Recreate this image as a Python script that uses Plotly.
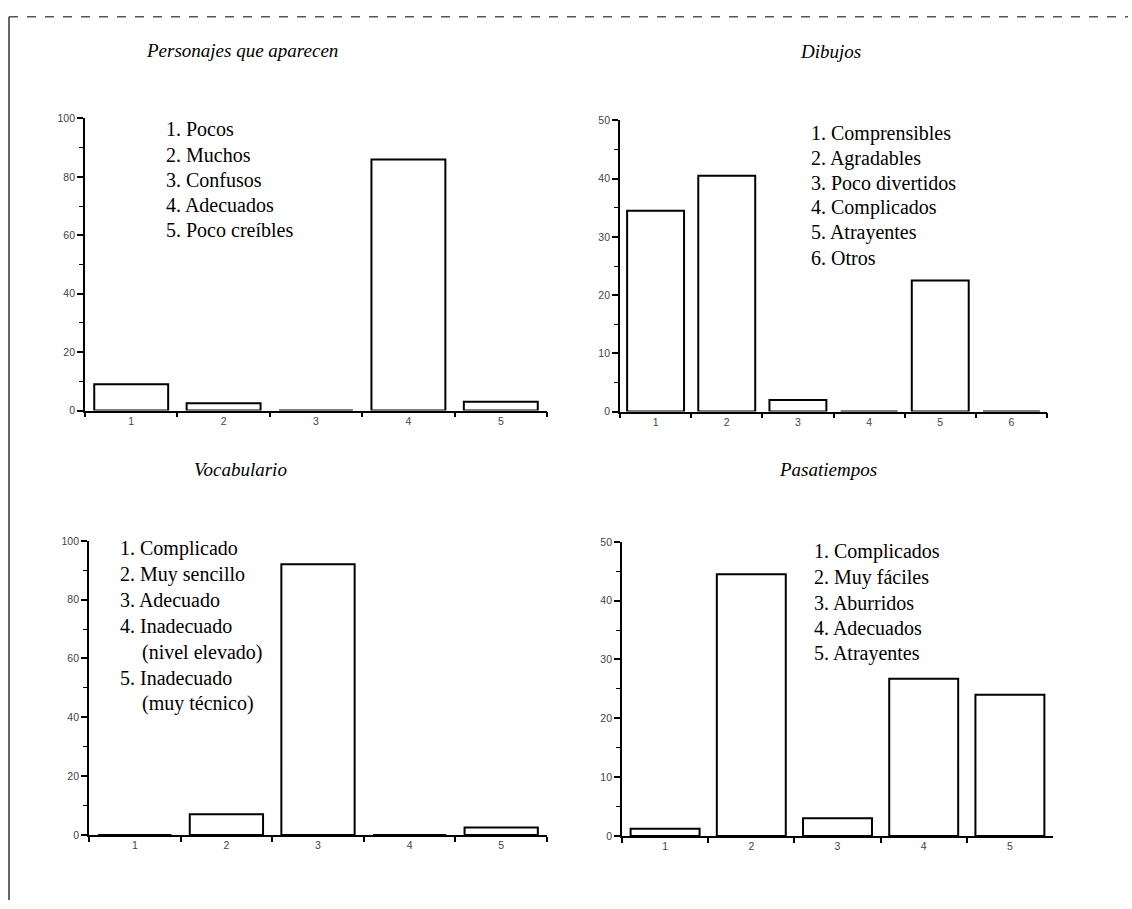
import plotly.graph_objects as go

W, H = 1132, 909

# ---- data ----
titles = ["Personajes que aparecen", "Dibujos", "Vocabulario", "Pasatiempos"]

cats_personajes = ["1", "2", "3", "4", "5"]
vals_personajes = [9, 2.5, 0, 86, 3]
labels_personajes = ["1. Pocos", "2. Muchos", "3. Confusos", "4. Adecuados", "5. Poco creíbles"]

cats_dibujos = ["1", "2", "3", "4", "5", "6"]
vals_dibujos = [34.5, 40.5, 2, 0, 22.5, 0]
labels_dibujos = ["1. Comprensibles", "2. Agradables", "3. Poco divertidos", "4. Complicados",
                  "5. Atrayentes", "6. Otros"]

cats_vocab = ["1", "2", "3", "4", "5"]
vals_vocab = [0, 7, 92, 0, 2.5]
labels_vocab = ["1. Complicado", "2. Muy sencillo", "3. Adecuado", "4. Inadecuado",
                "(nivel elevado)", "5. Inadecuado", "(muy técnico)"]
indent_vocab = [False, False, False, False, True, False, True]

cats_pasa = ["1", "2", "3", "4", "5"]
vals_pasa = [1.2, 44.5, 3, 26.7, 24]
labels_pasa = ["1. Complicados", "2. Muy fáciles", "3. Aburridos", "4. Adecuados", "5. Atrayentes"]

ymax = [100, 50, 100, 50]
ydtick = [20, 10, 20, 10]

# ---- layout helpers (pixel boxes) ----
boxes = [  # x0, x1, ytop, ybottom in pixels
    (85, 547, 114, 410),
    (620, 1047, 116, 411),
    (89, 547, 542, 840),
    (622, 1053, 543, 841),
]
title_pos = [(242, 45), (830, 46), (240, 470), (828, 470)]
label_pos = [(164, 125, 25.5), (809, 129, 25.2), (118, 550, 26.2), (812, 553, 25.8)]

def px(x):
    return x / W

def py(y):
    return 1 - y / H

fig = go.Figure()
data = [(cats_personajes, vals_personajes), (cats_dibujos, vals_dibujos),
        (cats_vocab, vals_vocab), (cats_pasa, vals_pasa)]

serif = "Liberation Serif"
sans = "Liberation Sans"
annotations = []
for i, (cats, vals) in enumerate(data):
    k = "" if i == 0 else str(i + 1)
    fig.add_trace(go.Bar(
        x=cats, y=vals, xaxis="x" + k, yaxis="y" + k,
        marker=dict(color="white", line=dict(color="black", width=2)),
        showlegend=False, hoverinfo="x+y",
    ))
    x0, x1, yt, yb = boxes[i]
    fig.layout["xaxis" + k] = dict(
        domain=[px(x0), px(x1)], anchor="y" + k, type="category",
        tickson="boundaries", ticks="outside", ticklen=5, tickwidth=1.5, tickcolor="black",
        showline=True, linecolor="black", linewidth=1.8, showgrid=False, zeroline=False,
        tickfont=dict(family=sans, size=10.5, color="#444"), fixedrange=True,
    )
    fig.layout["yaxis" + k] = dict(
        domain=[py(yb), py(yt)], anchor="x" + k, range=[0, ymax[i]],
        dtick=ydtick[i], tick0=0, ticks="outside", ticklen=6, tickwidth=1.5, tickcolor="black",
        minor=dict(dtick=ydtick[i] / 2, ticks="outside", ticklen=4, tickcolor="black", tickwidth=1.2),
        showline=True, linecolor="black", linewidth=1.8, showgrid=False, zeroline=False,
        tickfont=dict(family=sans, size=10.5, color="#444"), fixedrange=True,
    )
    tx, ty = title_pos[i]
    annotations.append(dict(
        x=px(tx), y=py(ty), xref="paper", yref="paper", text=titles[i],
        showarrow=False, xanchor="center", yanchor="middle",
        font=dict(family=serif, size=19, color="black", style="italic"),
    ))

label_lists = [labels_personajes, labels_dibujos, labels_vocab, labels_pasa]
indents = [None, None, indent_vocab, None]
for i, labs in enumerate(label_lists):
    lx, ly, sp = label_pos[i]
    for j, t in enumerate(labs):
        off = 22 if (indents[i] is not None and indents[i][j]) else 0
        annotations.append(dict(
            x=px(lx + off), y=py(ly + j * sp), xref="paper", yref="paper", text=t,
            showarrow=False, xanchor="left", yanchor="middle",
            font=dict(family=serif, size=20, color="black"),
        ))

shapes = [
    dict(type="line", xref="paper", yref="paper", x0=px(9), x1=px(1128), y0=py(11), y1=py(11),
         line=dict(color="#555", width=1.5, dash="dash")),
    dict(type="line", xref="paper", yref="paper", x0=px(9), x1=px(9), y0=py(11), y1=py(906),
         line=dict(color="#333", width=1.5)),
]

fig.update_layout(
    width=W, height=H, margin=dict(l=0, r=0, t=0, b=0),
    paper_bgcolor="white", plot_bgcolor="white",
    bargap=0.2, annotations=annotations, shapes=shapes,
)

fig.write_html(
    "out.html",
    config={"displayModeBar": False},
    post_script="document.body.style.margin='0';document.body.style.overflow='hidden';",
)
